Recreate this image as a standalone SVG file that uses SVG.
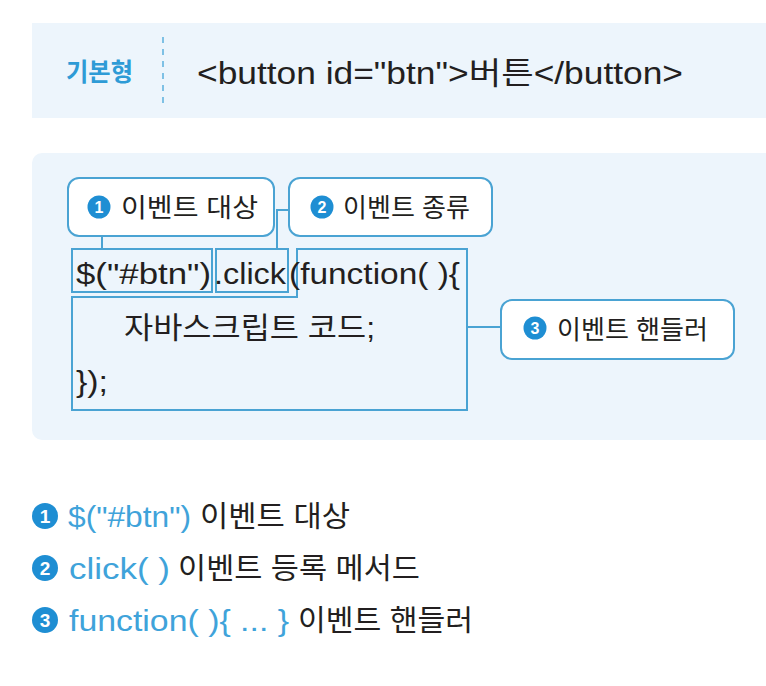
<svg xmlns="http://www.w3.org/2000/svg" width="766" height="686" viewBox="0 0 766 686">
<style>
.panel{fill:#EDF5FC}
.box{fill:#FFFFFF;stroke:#4AA3D3;stroke-width:2}
.cbox{fill:none;stroke:#4AA3D3;stroke-width:2}
.conn{fill:none;stroke:#4AA3D3;stroke-width:2}
.t{font-family:"Liberation Sans","Noto Sans CJK KR",sans-serif;fill:#231F20}
.blue{fill:#3FA3DA}
.dot{fill:#1E8ED3}
.dn{font-family:"Liberation Sans",sans-serif;font-weight:bold;fill:#FFFFFF;text-anchor:middle}
</style>
<rect width="766" height="686" fill="#FFFFFF"/>
<g id="basic-panel">
<rect class="panel" x="32" y="23" width="740" height="95"/>
<text class="t" x="66" y="81" font-size="25" font-weight="bold" style="fill:#2E9BD6" textLength="67" lengthAdjust="spacingAndGlyphs">기본형</text>
<line x1="163" y1="37" x2="163" y2="103" stroke="#5BB0DD" stroke-width="1.5" stroke-dasharray="6 6"/>
<text class="t" x="197" y="84" font-size="31" textLength="486" lengthAdjust="spacingAndGlyphs">&lt;button id="btn"&gt;버튼&lt;/button&gt;</text>
</g>
<rect class="panel" x="32" y="153" width="750" height="287" rx="10"/>
<g id="connectors">
<line class="conn" x1="102" y1="236" x2="102" y2="249"/>
<polyline class="conn" points="289,210 277,210 277,249"/>
<line class="conn" x1="467" y1="327" x2="501" y2="327"/>
</g>
<g id="label-target">
<rect class="box" x="68" y="178" width="206" height="58" rx="11"/>
<circle class="dot" cx="99" cy="207" r="11.5"/>
<text class="dn" x="99" y="213" font-size="16">1</text>
<text class="t" x="121" y="217" font-size="26" textLength="137" lengthAdjust="spacingAndGlyphs">이벤트 대상</text>
</g>
<g id="label-type">
<rect class="box" x="289" y="178" width="203" height="58" rx="11"/>
<circle class="dot" cx="322" cy="207" r="11.5"/>
<text class="dn" x="322" y="213" font-size="16">2</text>
<text class="t" x="343" y="217" font-size="26" textLength="127" lengthAdjust="spacingAndGlyphs">이벤트 종류</text>
</g>
<g id="label-handler">
<rect class="box" x="501" y="300" width="233" height="59" rx="11"/>
<circle class="dot" cx="535" cy="328" r="11.5"/>
<text class="dn" x="535" y="334" font-size="16">3</text>
<text class="t" x="557" y="339" font-size="26" textLength="151" lengthAdjust="spacingAndGlyphs">이벤트 핸들러</text>
</g>
<g id="code-target">
<rect class="cbox" x="72" y="249" width="140" height="43"/>
<text class="t" x="76" y="284" font-size="30" textLength="135" lengthAdjust="spacingAndGlyphs">$("#btn")</text>
</g>
<g id="code-click">
<rect class="cbox" x="216" y="249" width="72" height="43"/>
<text class="t" x="214" y="284" font-size="30" textLength="72" lengthAdjust="spacingAndGlyphs">.click</text>
</g>
<g id="code-handler">
<path class="cbox" d="M297,249 H467 V410 H72 V297 H297 Z"/>
<text class="t" x="289" y="284" font-size="30" textLength="171" lengthAdjust="spacingAndGlyphs">(function( ){</text>
<text class="t" x="124" y="338" font-size="30" textLength="251" lengthAdjust="spacingAndGlyphs">자바스크립트 코드;</text>
<text class="t" x="76" y="392" font-size="30" textLength="32" lengthAdjust="spacingAndGlyphs">});</text>
</g>
<g id="legend">
<circle class="dot" cx="45" cy="516" r="13"/>
<text class="dn" x="45" y="523" font-size="19">1</text>
<text class="t blue" x="68" y="527" font-size="29" textLength="123" lengthAdjust="spacingAndGlyphs">$("#btn")</text>
<text class="t" x="200" y="527" font-size="29" textLength="150" lengthAdjust="spacingAndGlyphs">이벤트 대상</text>
<circle class="dot" cx="45" cy="568" r="13"/>
<text class="dn" x="45" y="575" font-size="19">2</text>
<text class="t blue" x="69" y="579" font-size="29" textLength="101" lengthAdjust="spacingAndGlyphs">click( )</text>
<text class="t" x="178" y="579" font-size="29" textLength="242" lengthAdjust="spacingAndGlyphs">이벤트 등록 메서드</text>
<circle class="dot" cx="45" cy="620" r="13"/>
<text class="dn" x="45" y="627" font-size="19">3</text>
<text class="t blue" x="69" y="631" font-size="29" textLength="220" lengthAdjust="spacingAndGlyphs">function( ){ ... }</text>
<text class="t" x="298" y="631" font-size="29" textLength="175" lengthAdjust="spacingAndGlyphs">이벤트 핸들러</text>
</g>
</svg>
